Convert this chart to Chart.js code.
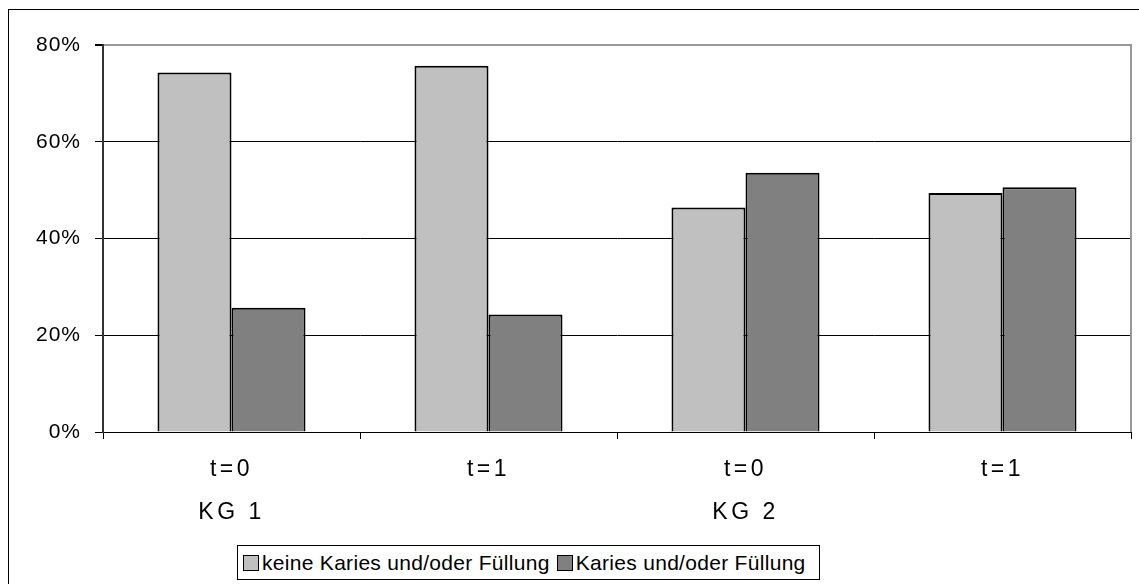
<!DOCTYPE html>
<html>
<head>
<meta charset="utf-8">
<script src="https://cdn.jsdelivr.net/npm/chart.js@4"></script>
<style>
  html,body{margin:0;padding:0;background:#fff;overflow:hidden}
  #wrap{position:relative;width:1139px;height:584px}
  #frame{position:absolute;left:8px;top:9px;width:1150px;height:600px;border:1px solid #000;box-sizing:border-box}
  #c{position:absolute;left:0;top:0}
  #legend{position:absolute;left:237px;top:545px;width:583px;height:35px;border:1px solid #000;box-sizing:border-box;background:#fff;
    font:21px "Liberation Sans",Arial,sans-serif;letter-spacing:0.3px;color:#000;display:flex;align-items:center;padding-left:5px;white-space:nowrap}
  .sw{display:inline-block;width:14px;height:14px;border:1.5px solid #000;margin-right:3px}
  .item{display:flex;align-items:center;margin-right:7px}
</style>
</head>
<body>
<div id="wrap">
  <div id="frame"></div>
  <canvas id="c" width="1139" height="584"></canvas>
  <div id="legend"></div>
</div>
<script>
const categories = [['t=0','KG 1'], 't=1', ['t=0','KG 2'], 't=1'];
const seriesNames = ['keine Karies und/oder Füllung', 'Karies und/oder Füllung'];
const keineKaries = [74.3, 75.7, 46.4, 49.4];
const mitKaries = [25.7, 24.3, 53.6, 50.6];
const yTicks = [0, 20, 40, 60, 80];
const colors = ['#C0C0C0', '#808080'];

const $ = (id) => document.getElementById(id);

// excel-like spaced text: a bit for the y labels, wider for the categories
const spacing = {
  id: 'spacing',
  beforeDraw(chart){
    const ctx = chart.ctx, x = chart.scales.x;
    ctx.letterSpacing = '1px';
    if(!x._spaced){
      const orig = x.drawLabels.bind(x);
      x.drawLabels = a => { ctx.letterSpacing = '3.5px'; orig(a); ctx.letterSpacing = '1px'; };
      x._spaced = true;
    }
  }
};
// grey right edge of plot area
const rightEdge = {
  id: 'rightEdge',
  afterDatasetsDraw(chart){
    const {ctx, chartArea:a} = chart;
    ctx.save();
    ctx.strokeStyle = '#999'; ctx.lineWidth = 2;
    ctx.beginPath(); ctx.moveTo(a.right, a.top - 1); ctx.lineTo(a.right, a.bottom); ctx.stroke();
    ctx.restore();
  }
};

Chart.defaults.font.family = '"Liberation Sans", Arial, sans-serif';
Chart.defaults.color = '#000';

new Chart($('c'), {
  type: 'bar',
  data: {
    labels: categories,
    datasets: [
      {label: seriesNames[0], data: keineKaries, backgroundColor: colors[0], borderColor: '#000', borderWidth: 2},
      {label: seriesNames[1], data: mitKaries, backgroundColor: colors[1], borderColor: '#000', borderWidth: 2}
    ]
  },
  options: {
    responsive: false,
    animation: false,
    devicePixelRatio: 1,
    layout: {padding: {top: 45, right: 8, left: 0, bottom: 0}},
    datasets: {bar: {barPercentage: 1, categoryPercentage: 0.576}},
    plugins: {legend: {display: false}, tooltip: {enabled: false}},
    scales: {
      x: {
        afterFit: s => { s.height = 152; },
        grid: {display: true, drawOnChartArea: false, offset: true, tickLength: 7, color: '#000', lineWidth: 1},
        border: {display: true, color: '#000', width: 1},
        ticks: {padding: 9, maxRotation: 0, autoSkip: false, font: {size: 23, lineHeight: 1.87}}
      },
      y: {
        min: 0, max: 80,
        afterFit: s => { s.width = 103; },
        afterBuildTicks: s => { s.ticks = yTicks.map(v => ({value: v})); },
        grid: {
          color: c => c.tick && c.tick.value === 80 ? '#999' : '#000',
          lineWidth: c => c.tick && c.tick.value === 80 ? 2 : 1,
          tickColor: '#000', tickLength: 8
        },
        border: {display: true, color: '#333', width: 2},
        ticks: {padding: 14, callback: v => v + '%', font: {size: 21}}
      }
    }
  },
  plugins: [spacing, rightEdge]
});

$('legend').innerHTML = seriesNames.map((n, i) =>
  `<span class="item"><span class="sw" style="background:${colors[i]}"></span>${n}</span>`).join('');
</script>
</body>
</html>
